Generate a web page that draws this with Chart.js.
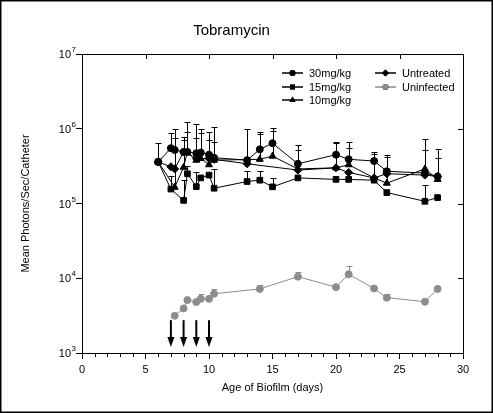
<!DOCTYPE html>
<html>
<head>
<meta charset="utf-8">
<script src="https://cdn.jsdelivr.net/npm/chart.js@4.4.0/dist/chart.umd.min.js"></script>
<style>
  body { margin: 0; background: #fff; }
  #chart { display: block; }
</style>
</head>
<body>
<canvas id="chart" width="493" height="413"></canvas>
<script>
// values (mean photons/sec/catheter), err = top of error bar
var days30 = [6, 7, 7.3, 8, 8.3, 9, 9.35, 10, 10.4, 13, 14, 15, 17, 20, 21, 23, 24, 27, 28];
var mg30   = [3.6e5, 5.5e5, 5.2e5, 4.9e5, 4.9e5, 4.7e5, 4.8e5, 4.5e5, 4.1e5, 3.8e5, 5.3e5, 6.4e5, 3.4e5, 4.5e5, 3.9e5, 3.7e5, 2.7e5, 2.55e5, 2.3e5];
var err30  = [6.4e5, 8.9e5, 9.8e5, 7.8e5, 1.23e6, 1.15e6, 1.0e6, 9.0e5, 1.07e6, 1.0e6, 9.0e5, 1.03e6, 6.0e5, 6.6e5, 6.6e5, 4.9e5, 4.5e5, 7.2e5, 5.3e5];

var days15 = [6, 7, 8, 8.3, 9, 9.35, 10, 10.4, 13, 14, 15, 17, 20, 21, 23, 24, 27, 28];
var mg15   = [3.6e5, 1.56e5, 1.1e5, 2.5e5, 1.68e5, 2.2e5, 2.4e5, 1.6e5, 1.97e5, 2.05e5, 1.67e5, 2.2e5, 2.1e5, 2.1e5, 2.05e5, 1.4e5, 1.07e5, 1.2e5];
var err15  = [null, 2.3e5, 2.05e5, 3.2e5, 2.6e5, null, null, 2.9e5, 2.7e5, 2.75e5, 2.2e5, null, null, null, null, null, 1.78e5, null];

var days10 = [6, 7.3, 8, 8.3, 9, 9.35, 10, 10.4, 14, 15, 17, 20, 21, 23, 24, 27, 28];
var mg10   = [3.6e5, 1.65e5, 3.05e5, 4.9e5, 3.8e5, 4.0e5, 3.3e5, 3.8e5, 3.9e5, 4.3e5, 2.9e5, 3.0e5, 3.3e5, 2.2e5, 1.87e5, 2.9e5, 2.1e5];
var err10  = [null, 7.6e5, 7.1e5, 9.0e5, 7.6e5, 8.9e5, 7.0e5, 6.7e5, 8.5e5, 9.3e5, 5.2e5, 6.4e5, 5.5e5, 4.6e5, 4.2e5, 5.2e5, 4.0e5];

var daysUnt = [6, 7, 7.3, 8, 9, 10, 10.4, 13, 17, 20, 21, 23, 24, 27, 28];
var untreated = [3.6e5, 3.1e5, 2.9e5, 4.9e5, 4.0e5, 4.0e5, 3.9e5, 3.4e5, 2.8e5, 3.0e5, 2.6e5, 2.2e5, 2.5e5, 2.4e5, 2.3e5];

var daysUninf = [7.3, 8, 8.3, 9, 9.35, 10, 10.4, 14, 17, 20, 21, 23, 24, 27, 28];
var uninfected = [3.15e3, 3.95e3, 5.1e3, 4.8e3, 5.3e3, 5.3e3, 6.2e3, 7.2e3, 1.05e4, 7.6e3, 1.13e4, 7.3e3, 5.5e3, 4.85e3, 7.2e3];
var errUninf = [null, null, null, null, 6.1e3, null, 7.2e3, 8.0e3, 1.23e4, null, 1.48e4, null, 6.1e3, 5.3e3, null];

var doseDays = [7, 8, 9, 10];
var yPowers = [3, 4, 5, 6, 7];
var xMajor = [0, 5, 10, 15, 20, 25, 30];

function pts(xs, ys) {
  return xs.map(function (x, i) { return { x: x, y: ys[i] }; });
}

var black = '#000';
var grey = '#8c8c8c';

var extras = {
  id: 'extras',
  beforeDatasetsDraw: function (chart) {
    var ctx = chart.ctx, ys = chart.scales.y;
    ctx.save();
    chart.data.datasets.forEach(function (ds, i) {
      if (!ds.errTop) return;
      var meta = chart.getDatasetMeta(i);
      ctx.strokeStyle = ds.borderColor;
      ctx.lineWidth = 1;
      meta.data.forEach(function (p, j) {
        var top = ds.errTop[j];
        if (top == null) return;
        var yt = Math.round(ys.getPixelForValue(top)) + 0.5;
        var x = Math.round(p.x) + 0.5;
        ctx.beginPath();
        ctx.moveTo(x, p.y);
        ctx.lineTo(x, yt);
        ctx.moveTo(x - 3, yt);
        ctx.lineTo(x + 3, yt);
        ctx.stroke();
      });
    });
    ctx.restore();
  },
  afterDraw: function (chart) {
    var ctx = chart.ctx, a = chart.chartArea;
    var xs = chart.scales.x, ys = chart.scales.y;
    ctx.save();
    // frame + mirrored ticks + short minor ticks on the x axis
    ctx.strokeStyle = black;
    ctx.lineWidth = 1;
    ctx.beginPath();
    ctx.moveTo(a.left, a.top + 0.5);
    ctx.lineTo(a.right + 0.5, a.top + 0.5);
    ctx.lineTo(a.right + 0.5, a.bottom);
    xMajor.forEach(function (d) {
      var x = Math.round(xs.getPixelForValue(d)) + 0.5;
      ctx.moveTo(x, a.top);
      ctx.lineTo(x, a.top + 5);
    });
    xs.ticks.forEach(function (t) {
      if (t.value % 5 === 0) return;
      var x = Math.round(xs.getPixelForValue(t.value)) + 0.5;
      ctx.moveTo(x, a.bottom);
      ctx.lineTo(x, a.bottom + 4);
    });
    yPowers.forEach(function (p) {
      var y = Math.round(ys.getPixelForValue(Math.pow(10, p))) + 0.5;
      ctx.moveTo(a.right, y);
      ctx.lineTo(a.right - 5, y);
    });
    ctx.stroke();

    // y tick labels as 10 with superscript
    ctx.fillStyle = black;
    yPowers.forEach(function (p) {
      var y = ys.getPixelForValue(Math.pow(10, p));
      ctx.font = '11px "Liberation Sans", Arial, sans-serif';
      ctx.textAlign = 'right';
      ctx.textBaseline = 'middle';
      ctx.fillText('10', 71, y + 1);
      ctx.font = '8px "Liberation Sans", Arial, sans-serif';
      ctx.textAlign = 'left';
      ctx.fillText(String(p), 71.5, y - 4);
    });

    // dosing arrows
    doseDays.forEach(function (d) {
      var x = xs.getPixelForValue(d);
      var y0 = ys.getPixelForValue(2.75e3);
      var y1 = ys.getPixelForValue(1.2e3);
      ctx.beginPath();
      ctx.lineWidth = 2;
      ctx.moveTo(x, y0);
      ctx.lineTo(x, y1 - 8);
      ctx.stroke();
      ctx.beginPath();
      ctx.moveTo(x - 3.5, y1 - 10);
      ctx.lineTo(x + 3.5, y1 - 10);
      ctx.lineTo(x, y1);
      ctx.closePath();
      ctx.fill();
    });

    // legend
    var items = [
      { i: 0, x: 282, y: 73 }, { i: 1, x: 282, y: 87 }, { i: 2, x: 282, y: 100 },
      { i: 3, x: 375, y: 73 }, { i: 4, x: 375, y: 87 }
    ];
    ctx.font = '11px "Liberation Sans", Arial, sans-serif';
    ctx.textAlign = 'left';
    ctx.textBaseline = 'middle';
    items.forEach(function (it) {
      var ds = chart.data.datasets[it.i];
      ctx.strokeStyle = ds.borderColor;
      ctx.lineWidth = 1.5;
      ctx.beginPath();
      ctx.moveTo(it.x, it.y);
      ctx.lineTo(it.x + 21, it.y);
      ctx.stroke();
      Chart.helpers.drawPoint(ctx, {
        pointStyle: ds.pointStyle, radius: ds.pointRadius - 0.5, rotation: 0, borderWidth: 0
      }, it.x + 10.5, it.y);
      ctx.fillStyle = ds.backgroundColor;
      ctx.fill();
      ctx.fillStyle = black;
      ctx.fillText(ds.label, it.x + 27, it.y + 0.5);
    });

    // outer border
    ctx.strokeStyle = black;
    ctx.lineWidth = 1.5;
    ctx.strokeRect(0.75, 0.75, chart.width - 1.5, chart.height - 1.5);
    ctx.restore();
  }
};

function series(label, xs, ys, style, color, err, r) {
  return {
    label: label,
    data: pts(xs, ys),
    errTop: err,
    showLine: true,
    borderColor: color,
    backgroundColor: color,
    pointBackgroundColor: color,
    pointBorderColor: color,
    borderWidth: 1,
    pointStyle: style,
    pointRadius: r,
    pointHoverRadius: r,
    tension: 0
  };
}

var chart = new Chart('chart', {
  type: 'scatter',
  data: {
    datasets: [
      series('30mg/kg', days30, mg30, 'circle', black, err30, 3.5),
      series('15mg/kg', days15, mg15, 'rect', black, err15, 4),
      series('10mg/kg', days10, mg10, 'triangle', black, err10, 4),
      series('Untreated', daysUnt, untreated, 'rectRot', black, null, 4),
      series('Uninfected', daysUninf, uninfected, 'circle', grey, errUninf, 3.5)
    ]
  },
  options: {
    responsive: false,
    animation: false,
    layout: { padding: { left: 0, right: 30, top: 0, bottom: 0 } },
    plugins: {
      legend: { display: false },
      tooltip: { enabled: false },
      title: {
        display: true,
        text: 'Tobramycin',
        color: black,
        font: { family: '"Liberation Sans", Arial, sans-serif', size: 15, weight: 'normal' },
        padding: { top: 22, bottom: 14 }
      }
    },
    scales: {
      x: {
        type: 'linear',
        min: 0,
        max: 30,
        afterFit: function (s) { s.height = 60; },
        border: { display: true, color: black, width: 1 },
        grid: {
          drawOnChartArea: false, drawTicks: true, tickLength: 6, color: black,
          tickColor: function (c) { return c.tick && c.tick.value % 5 === 0 ? black : 'rgba(0,0,0,0)'; }
        },
        ticks: {
          stepSize: 1,
          autoSkip: false,
          maxRotation: 0,
          padding: 4,
          color: black,
          font: { family: '"Liberation Sans", Arial, sans-serif', size: 11 },
          callback: function (v) { return v % 5 === 0 ? String(v) : ''; }
        },
        title: {
          display: true,
          text: 'Age of Biofilm (days)',
          color: black,
          font: { family: '"Liberation Sans", Arial, sans-serif', size: 11 },
          padding: { top: 4, bottom: 18 }
        }
      },
      y: {
        type: 'logarithmic',
        min: 1e3,
        max: 1e7,
        afterFit: function (s) { s.width = 82; },
        afterBuildTicks: function (s) {
          s.ticks = yPowers.map(function (p) { return { value: Math.pow(10, p) }; });
        },
        border: { display: true, color: black, width: 1 },
        grid: { drawOnChartArea: false, drawTicks: true, tickLength: 6, color: black, tickColor: black },
        ticks: { display: false },
        title: {
          display: true,
          text: 'Mean Photons/Sec/Catheter',
          color: black,
          font: { family: '"Liberation Sans", Arial, sans-serif', size: 11 },
          padding: { top: 19, bottom: 0 }
        }
      }
    }
  },
  plugins: [extras]
});
</script>
</body>
</html>
